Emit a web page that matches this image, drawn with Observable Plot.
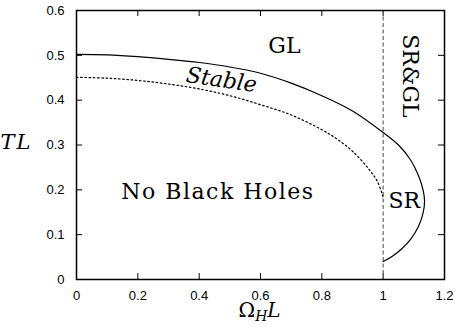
<!DOCTYPE html>
<html>
<head>
<meta charset="utf-8">
<script src="https://cdn.jsdelivr.net/npm/d3@7"></script>
<script src="https://cdn.jsdelivr.net/npm/@observablehq/plot@0.6"></script>
<style>
  html, body { margin: 0; padding: 0; background: #fff; }
</style>
</head>
<body>
<div id="chart"></div>
<script>
// Solid boundary curve (Omega_H L, T L)
const solidX = [0, 0.1, 0.2, 0.3, 0.4, 0.5, 0.6, 0.7, 0.8, 0.9, 1.0, 1.05, 1.09, 1.115, 1.13, 1.135, 1.13, 1.115, 1.09, 1.06, 1.03, 1.0];
const solidY = [0.502, 0.501, 0.497, 0.491, 0.484, 0.474, 0.46, 0.438, 0.41, 0.376, 0.328, 0.300, 0.266, 0.232, 0.200, 0.175, 0.148, 0.118, 0.090, 0.068, 0.052, 0.040];

// Dotted "Stable" curve
const dotX = [0, 0.1, 0.2, 0.3, 0.4, 0.5, 0.6, 0.7, 0.8, 0.85, 0.9, 0.95, 0.98, 1.0];
const dotY = [0.451, 0.449, 0.444, 0.436, 0.425, 0.41, 0.39, 0.367, 0.334, 0.313, 0.286, 0.249, 0.22, 0.184];

// Vertical dashed line position
const dashX = [1];

// Ticks
const xTicks = [0, 0.2, 0.4, 0.6, 0.8, 1.0, 1.2];
const xTickLabels = ["0", "0.2", "0.4", "0.6", "0.8", "1", "1.2"];
const yTicks = [0, 0.1, 0.2, 0.3, 0.4, 0.5, 0.6];
const yTickLabels = ["0", "0.1", "0.2", "0.3", "0.4", "0.5", "0.6"];

// Region labels
const labelText = ["GL", "No Black Holes", "SR", "SR&GL"];
const labelX = [0.678, 0.461, 1.069, 1.089];
const labelY = [0.522, 0.195, 0.175, 0.454];
const labelRotate = [0, 0, 0, 90];
const stableText = ["Stable"];
const stableX = [0.473];
const stableY = [0.445];

const axisTitleX = "ΩHL";
const axisTitleY = "TL";

const W = 455, H = 327;
const mL = 76, mR = 11, mT = 10, mB = 48;
const innerW = W - mL - mR, innerH = H - mT - mB;
const tickLen = 6;

const solid = solidX.map((x, i) => ({x, y: solidY[i]}));
const dotted = dotX.map((x, i) => ({x, y: dotY[i]}));
const labels = labelText.map((t, i) => ({t, x: labelX[i], y: labelY[i], r: labelRotate[i]}));
const innerXTicks = xTicks.slice(1, -1);
const innerYTicks = yTicks.slice(1, -1);

const serif = "DejaVu Serif";
const sans = "Liberation Sans, Arial, sans-serif";

const chart = Plot.plot({
  width: W, height: H,
  marginLeft: mL, marginRight: mR, marginTop: mT, marginBottom: mB,
  style: {background: "white", color: "black"},
  x: {domain: [0, 1.2], label: null},
  y: {domain: [0, 0.6], label: null},
  marks: [
    Plot.axisX(xTicks, {tickSize: 0, tickPadding: 11, fontSize: 13, fontFamily: sans, fill: "black",
      tickFormat: (d) => xTickLabels[xTicks.indexOf(d)], label: null}),
    Plot.axisY(yTicks, {tickSize: 0, tickPadding: 12, fontSize: 13, fontFamily: sans, fill: "black",
      tickFormat: (d) => yTickLabels[yTicks.indexOf(d)], label: null}),
    // inward ticks on all four sides
    Plot.ruleX(innerXTicks, {x: d => d, insetTop: innerH - tickLen, stroke: "black", strokeWidth: 1}),
    Plot.ruleX(innerXTicks, {x: d => d, insetBottom: innerH - tickLen, stroke: "black", strokeWidth: 1}),
    Plot.ruleY(innerYTicks, {y: d => d, insetRight: innerW - tickLen, stroke: "black", strokeWidth: 1}),
    Plot.ruleY(innerYTicks, {y: d => d, insetLeft: innerW - tickLen, stroke: "black", strokeWidth: 1}),
    Plot.ruleX(dashX, {x: d => d, stroke: "#666", strokeWidth: 1.2, strokeDasharray: "4,2.5"}),
    Plot.line(dotted, {x: "x", y: "y", stroke: "black", strokeWidth: 1.2, strokeDasharray: "1.6,2.6", curve: "catmull-rom"}),
    Plot.line(solid, {x: "x", y: "y", stroke: "black", strokeWidth: 1.2, curve: "catmull-rom"}),
    Plot.text(labels.filter(d => d.r === 0), {x: "x", y: "y", text: "t", fontSize: 22, fontFamily: serif, fill: "black"}),
    Plot.text(labels.filter(d => d.r !== 0), {x: "x", y: "y", text: "t", rotate: 90, fontSize: 22, fontFamily: serif, fill: "black"}),
    Plot.text(stableText, {x: () => stableX[0], y: () => stableY[0], text: d => d, rotate: 8.5, fontSize: 22, fontStyle: "italic", fontFamily: serif, fill: "black"}),
    Plot.text([axisTitleY], {x: () => -0.196, y: () => 0.306, text: d => d, fontSize: 21, fontStyle: "italic", fontFamily: serif, fill: "black"}),
    Plot.text([axisTitleX], {x: () => 0.597, y: () => -0.07, text: d => d, fontSize: 20, fontFamily: serif, fill: "black"}),
    Plot.frame({stroke: "black", strokeWidth: 1.5})
  ]
});

// Letter spacing for the wide label, and subscript formatting for the x title
chart.querySelectorAll("text").forEach(t => {
  if (t.textContent === "No Black Holes") t.setAttribute("letter-spacing", "1.5");
  if (t.textContent === axisTitleY) t.setAttribute("letter-spacing", "2");
  if (t.textContent === axisTitleX) {
    t.textContent = "";
    const ns = "http://www.w3.org/2000/svg";
    const a = document.createElementNS(ns, "tspan"); a.textContent = "Ω";
    const b = document.createElementNS(ns, "tspan"); b.textContent = "H";
    b.setAttribute("font-style", "italic"); b.setAttribute("font-size", "14"); b.setAttribute("dy", "4");
    const c = document.createElementNS(ns, "tspan"); c.textContent = "L";
    c.setAttribute("font-style", "italic"); c.setAttribute("dy", "-4");
    t.append(a, b, c);
  }
});

document.getElementById("chart").appendChild(chart);
</script>
</body>
</html>
